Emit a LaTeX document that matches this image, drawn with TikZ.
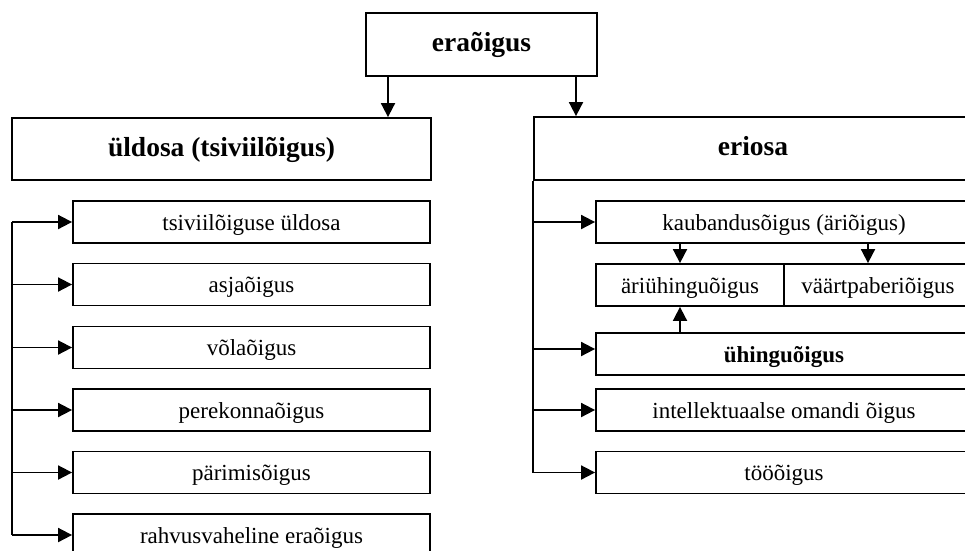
\documentclass[tikz,border=0pt]{standalone}
\usepackage{fontspec}
\setmainfont{Liberation Serif}
\usetikzlibrary{arrows.meta}
\tikzset{
    box/.style={draw, line width=1.8pt, inner sep=0pt, minimum height=42pt,
        text height=16pt, text depth=0pt, font=\fontsize{23}{27}\selectfont},
    headbox/.style={box, minimum height=63pt, text height=19pt, text depth=5pt,
        font=\fontsize{27.5}{32}\selectfont\bfseries},
    arr/.style={line width=1.8pt, -{Triangle[length=14pt,width=14pt]}},
    bar/.style={line width=1.8pt}
}

\begin{document}
\begin{tikzpicture}[x=1pt, y=-1pt]
    \useasboundingbox (0,0) rectangle (965,550);
    \clip (0,0) rectangle (965,550);

    \node[headbox, minimum width=231pt] (ERA) at (481.5,44.5) {eraõigus};
    \node[headbox, minimum width=419pt, minimum height=62pt] (ULD) at (221.5,149) {üldosa (tsiviilõigus)};
    \node[headbox, minimum width=438pt] (ERI) at (753,148.5) {eriosa};
    \draw[arr] ([xshift=-93.5pt]ERA.south) -- ([xshift=166.5pt]ULD.north);
    \draw[arr] ([xshift=94.5pt]ERA.south) -- ([xshift=-177pt]ERI.north);


    \node[box, minimum width=357pt] (TSIV) at (251.5,222) {tsiviilõiguse üldosa};
    \node[box, minimum width=357pt] (ASJA) at (251.5,284.5) {asjaõigus};
    \node[box, minimum width=357pt] (VOLA) at (251.5,347.5) {võlaõigus};
    \node[box, minimum width=357pt] (PERE) at (251.5,410) {perekonnaõigus};
    \node[box, minimum width=357pt] (PARI) at (251.5,472.5) {pärimisõigus};
    \node[box, minimum width=357pt] (RAHV) at (251.5,535) {rahvusvaheline eraõigus};

    \coordinate (LBR) at (12,222);
    \draw[bar] (LBR) -- (LBR |- RAHV.west);
    \draw[arr] (LBR |- TSIV.west) -- (TSIV.west);
    \draw[arr] (LBR |- ASJA.west) -- (ASJA.west);
    \draw[arr] (LBR |- VOLA.west) -- (VOLA.west);
    \draw[arr] (LBR |- PERE.west) -- (PERE.west);
    \draw[arr] (LBR |- PARI.west) -- (PARI.west);
    \draw[arr] (LBR |- RAHV.west) -- (RAHV.west);


    \node[box, minimum width=376pt] (KAUB) at (784,222) {kaubandusõigus (äriõigus)};
    \node[box, minimum width=188pt] (ARIUH) at (690,285) {äriühinguõigus};
    \node[box, minimum width=188pt] (VAART) at (878,285) {väärtpaberiõigus};
    \node[box, minimum width=376pt] (UHING) at (784,354) {\bfseries ühinguõigus};
    \node[box, minimum width=376pt] (INTEL) at (784,410) {intellektuaalse omandi õigus};
    \node[box, minimum width=376pt] (TOO) at (784,472.5) {tööõigus};

    \draw[arr] ([xshift=-104pt]KAUB.south) -- ([xshift=-10pt]ARIUH.north);
    \draw[arr] ([xshift=84pt]KAUB.south) -- ([xshift=-10pt]VAART.north);
    \draw[arr] ([xshift=-104pt]UHING.north) -- ([xshift=-10pt]ARIUH.south);

    \coordinate (UIN) at ([yshift=5pt]UHING.west);
    \draw[bar] (ERI.south west) -- (ERI.south west |- TOO.west);
    \draw[arr] (ERI.south west |- KAUB.west) -- (KAUB.west);
    \draw[arr] (ERI.south west |- UIN) -- (UIN);
    \draw[arr] (ERI.south west |- INTEL.west) -- (INTEL.west);
    \draw[arr] (ERI.south west |- TOO.west) -- (TOO.west);

    %\draw[help lines] (0,0) grid[step=50] (965,550);
\end{tikzpicture}
\end{document}
